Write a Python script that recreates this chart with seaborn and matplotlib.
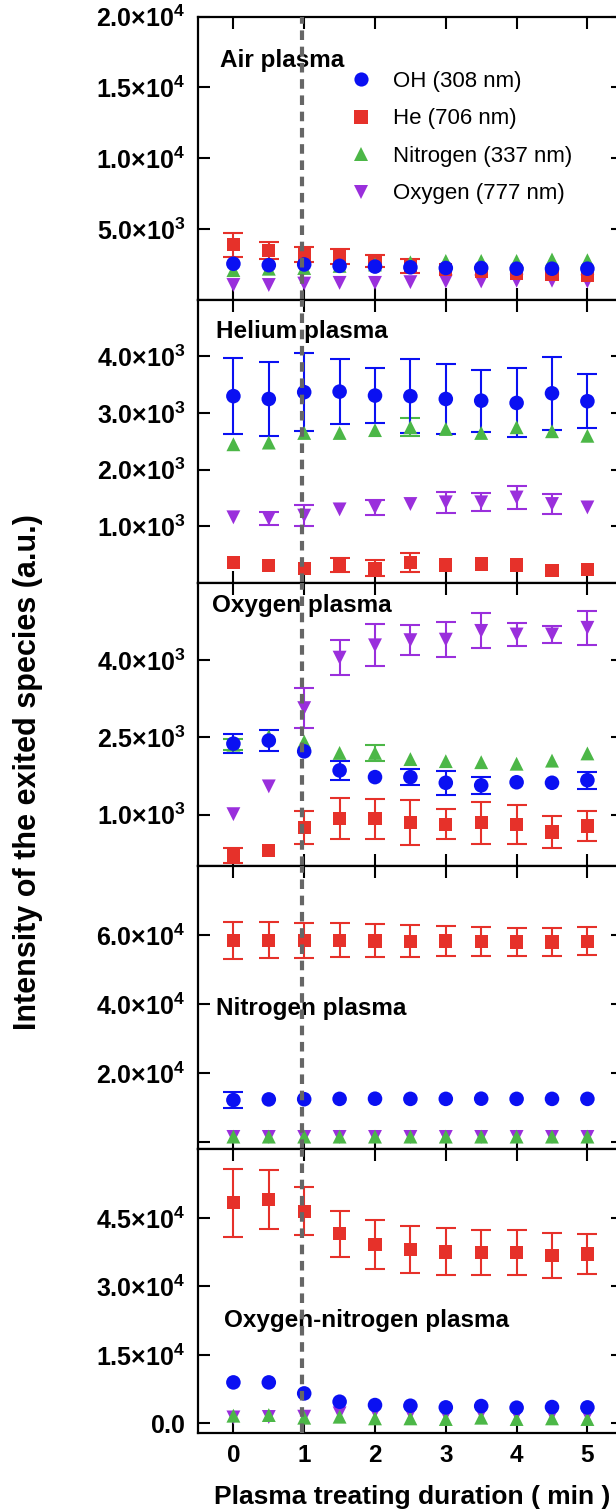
import numpy as np
import pandas as pd
import matplotlib
matplotlib.use('Agg')
import matplotlib.pyplot as plt
import seaborn as sns
from matplotlib.lines import Line2D

# ---------------- data ----------------
time_min = [0, 0.5, 1, 1.5, 2, 2.5, 3, 3.5, 4, 4.5, 5]
species = ['OH (308 nm)', 'He (706 nm)', 'Nitrogen (337 nm)', 'Oxygen (777 nm)']
panel_titles = ['Air plasma', 'Helium plasma', 'Oxygen plasma', 'Nitrogen plasma',
                'Oxygen-nitrogen plasma']

# Air plasma
air_oh = [2550, 2450, 2500, 2400, 2350, 2300, 2250, 2250, 2200, 2200, 2200]
air_oh_err = [None] * 11
air_he = [3900, 3500, 3200, 3050, 2750, 2400, 2150, 2000, 1900, 1800, 1700]
air_he_err = [850, 600, 550, 550, 450, 480, None, None, None, None, None]
air_n2 = [2100, 2200, 2250, 2400, 2500, 2650, 2750, 2750, 2750, 2850, 2800]
air_n2_err = [None] * 11
air_o = [1050, 1050, 1150, 1200, 1200, 1250, 1300, 1300, 1350, 1350, 1300]
air_o_err = [None] * 11

# Helium plasma
he_oh = [3300, 3250, 3370, 3380, 3310, 3300, 3250, 3220, 3180, 3350, 3210]
he_oh_err = [665, 660, 685, 570, 480, 650, 620, 545, 610, 640, 480]
he_he = [365, 305, 260, 320, 260, 365, 320, 335, 320, 220, 235]
he_he_err = [None, None, None, 125, 140, 170, None, None, None, None, None]
he_n2 = [2450, 2480, 2650, 2650, 2700, 2750, 2720, 2650, 2750, 2680, 2600]
he_n2_err = [None, None, None, None, None, 160, None, None, None, None, None]
he_o = [1160, 1140, 1190, 1300, 1335, 1395, 1425, 1425, 1510, 1395, 1335]
he_o_err = [None, 120, 185, None, 130, None, 180, 160, 210, 170, None]

# Oxygen plasma
ox_oh = [2380, 2440, 2230, 1860, 1730, 1730, 1620, 1570, 1630, 1620, 1670]
ox_oh_err = [180, 200, None, 180, None, 150, 235, 160, None, None, 165]
ox_he = [215, 300, 750, 920, 920, 845, 815, 845, 815, 665, 780]
ox_he_err = [145, None, 320, 395, 390, 435, 290, 410, 375, 315, 290]
ox_n2 = [2360, 2520, 2420, 2200, 2200, 2080, 2040, 2020, 1990, 2050, 2190]
ox_n2_err = [110, None, None, None, 150, None, None, None, None, None, None]
ox_o = [1010, 1550, 3070, 4050, 4290, 4390, 4400, 4570, 4500, 4500, 4630]
ox_o_err = [None, None, 390, 340, 410, 285, 340, 340, 215, 165, 330]

# Nitrogen plasma
ni_oh = [12100, 12300, 12350, 12450, 12500, 12450, 12450, 12500, 12450, 12450, 12450]
ni_oh_err = [2400, None, None, None, None, None, None, None, None, None, None]
ni_he = [58500, 58500, 58500, 58500, 58300, 58200, 58300, 58200, 58000, 58000, 58200]
ni_he_err = [5400, 5300, 5100, 4950, 4800, 4650, 4300, 4200, 4000, 4150, 4000]
ni_n2 = [1500] * 11
ni_n2_err = [None] * 11
ni_o = [1400] * 11
ni_o_err = [None] * 11

# Oxygen-nitrogen plasma
on_oh = [8970, 8970, 6560, 4740, 4010, 3860, 3500, 3790, 3430, 3570, 3500]
on_oh_err = [None] * 11
on_he = [48300, 49050, 46450, 41550, 39200, 38050, 37550, 37400, 37400, 36800, 37050]
on_he_err = [7450, 6450, 5200, 5050, 5400, 5150, 5150, 4850, 4900, 4950, 4350]
on_n2 = [1680, 1820, 1240, 1460, 1090, 1090, 950, 1240, 950, 1090, 950]
on_n2_err = [None] * 11
on_o = [1300, 1400, 1460, 2190, 2550, 2190, 1900, 2190, 1900, 1900, 1750]
on_o_err = [None] * 11

panel_series = [
    (air_oh, air_oh_err, air_he, air_he_err, air_n2, air_n2_err, air_o, air_o_err),
    (he_oh, he_oh_err, he_he, he_he_err, he_n2, he_n2_err, he_o, he_o_err),
    (ox_oh, ox_oh_err, ox_he, ox_he_err, ox_n2, ox_n2_err, ox_o, ox_o_err),
    (ni_oh, ni_oh_err, ni_he, ni_he_err, ni_n2, ni_n2_err, ni_o, ni_o_err),
    (on_oh, on_oh_err, on_he, on_he_err, on_n2, on_n2_err, on_o, on_o_err),
]

y_limits = [(0, 20000), (0, 5000), (0, 5500), (-2200, 80000), (-2000, 60000)]
y_ticks = [[5000, 10000, 15000, 20000], [1000, 2000, 3000, 4000], [1000, 2500, 4000],
           [0, 20000, 40000, 60000], [0, 15000, 30000, 45000]]
x_ticks = [0, 1, 2, 3, 4, 5]
x_label = 'Plasma treating duration ( min )'
y_label = 'Intensity of the exited species (a.u.)'

# ---------------- style ----------------
sns.set_theme(style='ticks')
plt.rcParams['font.family'] = ['Liberation Sans', 'DejaVu Sans']
plt.rcParams['mathtext.fontset'] = 'custom'
plt.rcParams['mathtext.rm'] = 'Liberation Sans'
plt.rcParams['mathtext.bf'] = 'Liberation Sans:bold'
plt.rcParams['mathtext.it'] = 'Liberation Sans:italic'
plt.rcParams['text.color'] = 'black'
plt.rcParams['axes.labelcolor'] = 'black'
plt.rcParams['xtick.color'] = 'black'
plt.rcParams['ytick.color'] = 'black'

colors = {'OH (308 nm)': '#0A10F2', 'He (706 nm)': '#E6312A',
          'Nitrogen (337 nm)': '#4CB747', 'Oxygen (777 nm)': '#9A2FDC'}
markers = {'OH (308 nm)': 'o', 'He (706 nm)': 's',
           'Nitrogen (337 nm)': '^', 'Oxygen (777 nm)': 'v'}
msize = {'OH (308 nm)': 110, 'He (706 nm)': 92,
         'Nitrogen (337 nm)': 100, 'Oxygen (777 nm)': 100}
draw_order = ['Oxygen (777 nm)', 'He (706 nm)', 'Nitrogen (337 nm)', 'OH (308 nm)']


def sci_label(v):
    if v == 0:
        return r'$\mathbf{0.0}$'
    e = int(np.floor(np.log10(abs(v))))
    m = v / 10 ** e
    return r'$\mathbf{%.1f{\times}10^{%d}}$' % (m, e)


W_PX, H_PX = 616, 1512
fig = plt.figure(figsize=(W_PX / 100, H_PX / 100), dpi=100)
fig.patch.set_facecolor('white')

left_px, right_px = 198.0, 622.8
top_px, panel_h = 16.7, 283.16
title_pos = [(220, 0.847), (216, 0.887), (212, 0.919), (216, 0.496), (224, 0.397)]

axes = []
for i in range(5):
    bottom = 1 - (top_px + (i + 1) * panel_h) / H_PX
    ax = fig.add_axes([left_px / W_PX, bottom, (right_px - left_px) / W_PX, panel_h / H_PX])
    axes.append(ax)
    vals = panel_series[i]
    data = {}
    for k, sp in enumerate(species):
        data[sp] = (vals[2 * k], vals[2 * k + 1])
    for sp in draw_order:
        y, err = data[sp]
        df = pd.DataFrame({'t': time_min, 'v': y,
                           'e': [np.nan if e is None else e for e in err]})
        de = df.dropna()
        if len(de):
            ax.errorbar(de['t'], de['v'], yerr=de['e'], fmt='none', ecolor=colors[sp],
                        elinewidth=1.5, capsize=7, capthick=1.5, zorder=2)
        sns.scatterplot(data=df, x='t', y='v', ax=ax, marker=markers[sp], color=colors[sp],
                        s=msize[sp], linewidth=0, edgecolor='none', zorder=3, legend=False)
    ax.axvline(0.975, color='#666666', lw=3, ls=(0, (2.3, 1.6)), zorder=10)
    ax.set_xlim(-0.5, 5.5)
    ax.set_ylim(*y_limits[i])
    ax.set_xticks(x_ticks)
    ax.set_yticks(y_ticks[i])
    labels = [sci_label(v) for v in y_ticks[i]]
    if i == 3:
        labels[0] = ''
    ax.set_yticklabels(labels)
    ax.set_xlabel('')
    ax.set_ylabel('')
    ax.tick_params(direction='in', length=8.5, width=1.5, top=True, right=True,
                   bottom=True, left=True, labelsize=18, pad=9, colors='black')
    if i < 4:
        ax.tick_params(labelbottom=False)
    else:
        ax.set_xticklabels([str(t) for t in x_ticks], fontweight='bold', fontsize=17.5)
        ax.tick_params(axis='x', pad=8)
    for s in ax.spines.values():
        s.set_linewidth(1.6)
        s.set_color('black')
    xt, yt = title_pos[i]
    ax.text((xt - left_px) / (right_px - left_px), yt, panel_titles[i],
            transform=ax.transAxes, ha='left', va='center', fontsize=17.5,
            fontweight='bold', zorder=5, color='black')

# legend in top panel
handles = [Line2D([], [], linestyle='none', marker=markers[sp], color=colors[sp],
                  markersize=10.2 if sp != 'He (706 nm)' else 9.5, markeredgewidth=0)
           for sp in species]
fig.legend(handles, species, loc='upper left',
           bbox_to_anchor=(349.6 / W_PX, 1 - 71 / H_PX), frameon=False,
           fontsize=16, handlelength=1.0, handletextpad=0.97, borderpad=0,
           borderaxespad=0, labelspacing=0.74, labelcolor='black')

fig.text(412 / W_PX, 1 - 1497 / H_PX, x_label, ha='center', va='center',
         fontsize=19, fontweight='bold', color='black')
fig.text(28 / W_PX, 1 - 772 / H_PX, y_label, ha='center', va='center', rotation=90,
         fontsize=22, fontweight='bold', color='black')

fig.savefig('out.png', dpi=100, facecolor='white')
